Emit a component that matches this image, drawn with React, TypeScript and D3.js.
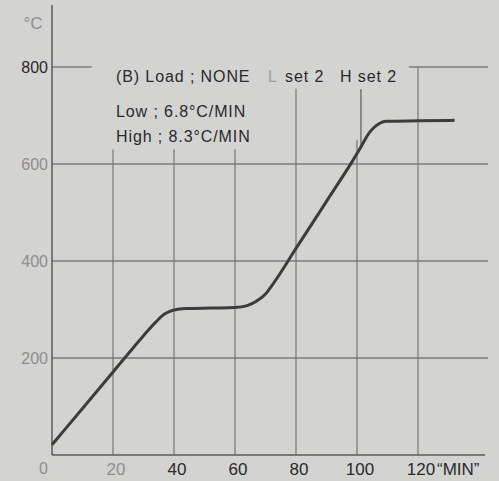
import React from 'react';
import * as d3 from 'd3';

// heating curve
const minutes = [0, 10, 20, 30, 34, 37, 40, 44, 52, 60, 64, 67, 70, 72.6, 80, 90, 98.7, 101, 104, 107.5, 109.5, 120, 132];
const temps = [21, 96, 171, 246, 274, 291, 299, 302, 303, 304, 308, 317, 332, 354, 426, 523, 608, 632, 664, 684, 688, 689, 690];

const xTicks = [20, 40, 60, 80, 100, 120];
const yTicks = [200, 400, 600, 800];
// how far up each vertical grid line reaches (°C)
const vGridTop = [630, 630, 630, 755, 650, 800];
const fadedY = [200, 400, 600];
const fadedX = [20];

const W = 499;
const H = 481;

export default function App()
{
    const x = d3.scaleLinear().domain([0, 120]).range([52, 418]);
    const y = d3.scaleLinear().domain([0, 800]).range([455, 67]);
    const xEnd = 143;

    const line = d3.line<number>()
        .x((d, i) => x(minutes[i]))
        .y(d => y(d))
        .curve(d3.curveMonotoneX);

    const font = '"Liberation Sans", Arial, sans-serif';
    const grid = '#7c7c7c';
    const ink = '#2a2a2a';
    const faded = '#8e8e8e';

    return (
        <svg width={W} height={H} style={{ position: 'absolute', left: 0, top: 0, background: '#d3d3d1', fontFamily: font }}>
            {/* horizontal grid */}
            {yTicks.filter(t => t < 800).map(t =>
                <line key={'h' + t} x1={x(0)} x2={x(xEnd)} y1={y(t)} y2={y(t)} stroke={grid} strokeWidth={1.3} />
            )}
            <line x1={x(0)} x2={x(13)} y1={y(800)} y2={y(800)} stroke={grid} strokeWidth={1.3} />
            <line x1={x(117)} x2={x(xEnd)} y1={y(800)} y2={y(800)} stroke={grid} strokeWidth={1.3} />

            {/* vertical grid */}
            {xTicks.map((t, i) =>
                <line key={'v' + t} x1={x(t)} x2={x(t)} y1={y(0)} y2={y(vGridTop[i])} stroke={grid} strokeWidth={1.3} />
            )}

            {/* axes */}
            <line x1={x(0)} x2={x(0)} y1={y(0)} y2={5} stroke="#5a5a5a" strokeWidth={1.5} />
            <line x1={x(0)} x2={x(142)} y1={y(0)} y2={y(0)} stroke="#5a5a5a" strokeWidth={1.5} />

            {/* H set 2 marker */}
            <line x1={x(101.3)} x2={x(101.3)} y1={y(632)} y2={89} stroke="#444" strokeWidth={1} />

            {/* curve */}
            <path d={line(temps) || ''} fill="none" stroke="#3c3c3c" strokeWidth={3} strokeLinejoin="round" />

            {/* y labels */}
            {yTicks.map(t =>
                <text key={'yl' + t} x={x(0) - 4} y={y(t) + 6} textAnchor="end" fontSize={16}
                    fill={fadedY.includes(t) ? faded : ink}>{t}</text>
            )}
            <text x={48} y={474} textAnchor="end" fontSize={16} fill={faded}>0</text>
            <text x={33} y={29} textAnchor="middle" fontSize={17} fill={faded}>°C</text>

            {/* x labels */}
            {xTicks.map(t =>
                <text key={'xl' + t} x={x(t) + 3} y={475} textAnchor="middle" fontSize={17}
                    fill={fadedX.includes(t) ? faded : ink}>{t}</text>
            )}
            <text x={x(120) + 19} y={475} fontSize={17} fill={ink}>“MIN”</text>

            {/* annotations */}
            <g fontSize={16} fill={ink} letterSpacing={0.9}>
                <text x={116} y={82}>(B)  Load ; NONE</text>
                <text x={268} y={82} fill="#a0a0a0">L</text>
                <text x={285} y={82}>set 2</text>
                <text x={340} y={82}>H set 2</text>
                <text x={116} y={117}>Low ; 6.8°C/MIN</text>
                <text x={116} y={142}>High ; 8.3°C/MIN</text>
            </g>
        </svg>
    );
}
